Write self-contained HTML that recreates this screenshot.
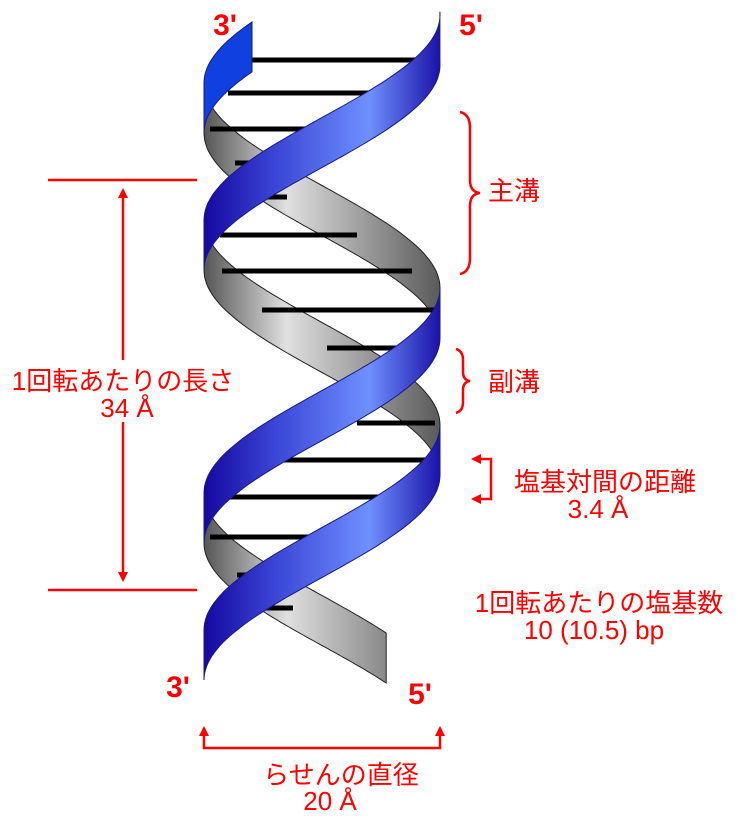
<!DOCTYPE html>
<html><head><meta charset="utf-8"><style>
html,body{margin:0;padding:0;background:#fff;}
svg{display:block;}
text{font-family:"Liberation Sans","Noto Sans CJK JP",sans-serif;fill:#f00;}
</style></head><body>
<svg id="s" width="738" height="821" viewBox="0 0 738 821" xmlns="http://www.w3.org/2000/svg">
<defs>
<linearGradient id="gb" gradientUnits="userSpaceOnUse" x1="204" y1="0" x2="440" y2="0">
<stop offset="0" stop-color="#1508a0"/><stop offset="0.3" stop-color="#3a45d5"/><stop offset="0.7" stop-color="#6f90ff"/><stop offset="1" stop-color="#1a12a8"/></linearGradient>
<linearGradient id="gg" gradientUnits="userSpaceOnUse" x1="204" y1="0" x2="440" y2="0">
<stop offset="0" stop-color="#555"/><stop offset="0.35" stop-color="#e0e0e0"/><stop offset="1" stop-color="#5a5a5a"/></linearGradient>
<marker id="ah" markerWidth="10" markerHeight="10" refX="8" refY="5" orient="auto" markerUnits="userSpaceOnUse"><path d="M0,0 L10,5 L0,10 z" fill="#f00"/></marker>
</defs>
<g id="back"></g>
<g id="bars" stroke="#000" stroke-width="5">
<line x1="252" y1="60" x2="420" y2="60"/>
<line x1="228" y1="93" x2="380" y2="93"/>
<line x1="210" y1="129" x2="330" y2="129"/>
<line x1="235" y1="163" x2="262" y2="163"/>
<line x1="255" y1="197" x2="287" y2="197"/>
<line x1="220" y1="235" x2="357" y2="235"/>
<line x1="222" y1="271" x2="412" y2="271"/>
<line x1="262" y1="310" x2="437" y2="310"/>
<line x1="327" y1="348" x2="410" y2="348"/>
<line x1="357" y1="423" x2="435" y2="423"/>
<line x1="280" y1="460" x2="430" y2="460"/>
<line x1="228" y1="497" x2="390" y2="497"/>
<line x1="210" y1="537" x2="310" y2="537"/>
<line x1="237" y1="575" x2="262" y2="575"/>
<line x1="255" y1="608" x2="293" y2="608"/>
</g>
<g id="front"></g>

<text x="225" y="35" font-size="30" font-weight="bold" text-anchor="middle">3'</text>
<text x="471" y="35" font-size="30" font-weight="bold" text-anchor="middle">5'</text>
<text x="178" y="697" font-size="30" font-weight="bold" text-anchor="middle">3'</text>
<text x="420" y="704" font-size="30" font-weight="bold" text-anchor="middle">5'</text>

<g stroke="#f00" stroke-width="2.5" fill="none">
<line x1="48" y1="180" x2="197" y2="180"/>
<line x1="48" y1="590" x2="197" y2="590"/>
<line x1="123" y1="360" x2="123" y2="190" marker-end="url(#ah)"/>
<line x1="123" y1="422" x2="123" y2="580" marker-end="url(#ah)"/>
<path d="M460,112 Q470,114 470,128 L470,180 Q470,192 480,193 Q470,194 470,206 L470,258 Q470,272 460,274"/>
<path d="M456,349 Q463,351 463,360 L463,372 Q463,380 470,381 Q463,382 463,390 L463,402 Q463,411 456,413"/>
<path d="M476,459 L491,459 L491,499 L476,499"/>
<line x1="476" y1="459" x2="473" y2="459" marker-end="url(#ah)"/>
<line x1="476" y1="499" x2="473" y2="499" marker-end="url(#ah)"/>
<path d="M204,735 L204,748 L440,748 L440,735"/>
<line x1="204" y1="736" x2="204" y2="728" marker-end="url(#ah)"/>
<line x1="440" y1="736" x2="440" y2="728" marker-end="url(#ah)"/>
</g>

<text x="123" y="390" font-size="26" text-anchor="middle">1回転あたりの長さ</text>
<text x="127" y="417" font-size="26" text-anchor="middle">34 Å</text>
<text x="488" y="200" font-size="26">主溝</text>
<text x="488" y="391" font-size="26">副溝</text>
<text x="605" y="491" font-size="26" text-anchor="middle">塩基対間の距離</text>
<text x="598" y="518" font-size="26" text-anchor="middle">3.4 Å</text>
<text x="599" y="612" font-size="26" text-anchor="middle">1回転あたりの塩基数</text>
<text x="594" y="639" font-size="26" text-anchor="middle">10 (10.5) bp</text>
<text x="341" y="784" font-size="26" text-anchor="middle">らせんの直径</text>
<text x="330" y="810" font-size="26" text-anchor="middle">20 Å</text>
</svg>
<script>
(function(){
var cx=322,R=118,k=410/(2*Math.PI),h=25,NS="http://www.w3.org/2000/svg";
var back=document.getElementById('back'),front=document.getElementById('front');
function seg(y0,p0,a,b,isFront,fill){
 var top=[],bot=[],n=60;
 for(var i=0;i<=n;i++){var p=a+(b-a)*i/n;var x=cx-R*Math.sin(p);var y=y0+k*(p-p0);
  top.push(x.toFixed(1)+','+(y-h).toFixed(1));bot.push(x.toFixed(1)+','+(y+h).toFixed(1));}
 var d='M'+top.join(' L')+' L'+bot.reverse().join(' L')+' Z';
 var el=document.createElementNS(NS,'path');el.setAttribute('d',d);
 el.setAttribute('fill',fill);el.setAttribute('stroke',isFront?'#1a1a80':'#222');el.setAttribute('stroke-width','1');
 (isFront?front:back).appendChild(el);
}
var P=Math.PI;
seg(108,P/2,0.635,P/2,true,'#1040e0');
seg(108,P/2,P/2,3*P/2,false,'url(#gg)');
seg(108,P/2,3*P/2,5*P/2,true,'url(#gb)');
seg(108,P/2,5*P/2,10.0,false,'url(#gg)');
seg(40,-P/2,-P/2-0.05,P/2,true,'url(#gb)');
seg(40,-P/2,P/2,3*P/2,false,'url(#gg)');
seg(40,-P/2,3*P/2,5*P/2,true,'url(#gb)');
})();
</script>
</body></html>
